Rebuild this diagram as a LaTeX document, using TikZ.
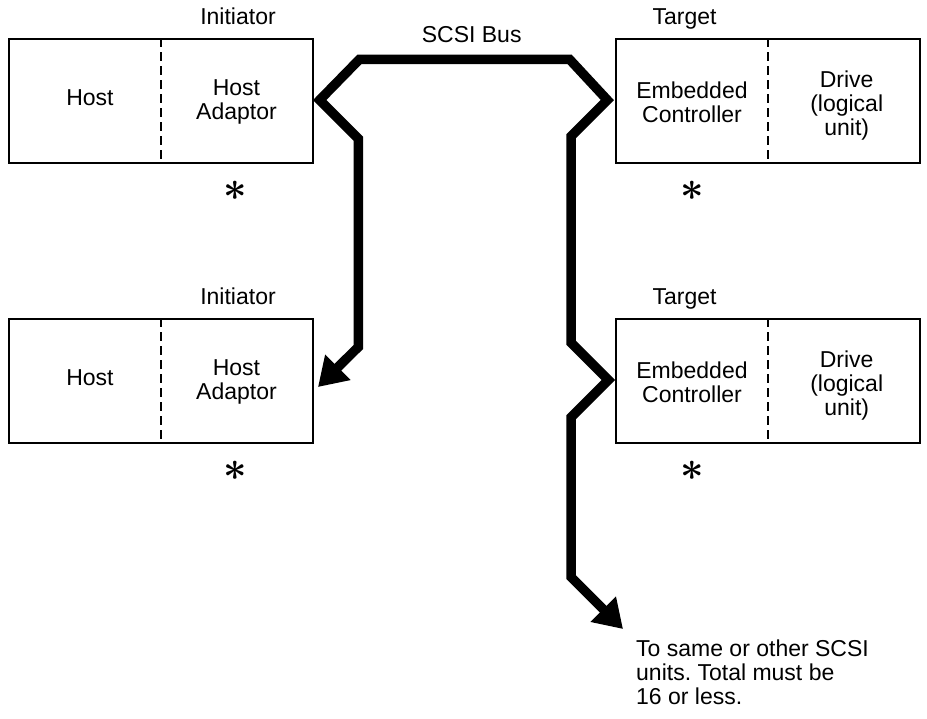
\documentclass[tikz,border=0pt]{standalone}
\usepackage{fontspec}
\usepackage{graphicx}
\setmainfont{Liberation Sans}
\usetikzlibrary{arrows.meta}
\frenchspacing
\begin{document}
\begin{tikzpicture}[x=1pt,y=-1pt,
  every node/.style={font=\fontsize{23}{24}\selectfont, inner sep=0pt},
  unitbox/.style={draw, line width=1.3pt, minimum width=304pt, minimum height=124pt},
  divider/.style={line width=1.6pt, dash pattern=on 9pt off 5pt},
  lbl/.style={anchor=base},
  boxtext/.style={align=center},
  bus/.style={line width=9.5pt, line join=miter, {Triangle[length=28pt,width=34pt]}-{Triangle[length=28pt,width=34pt]}}
]
\newcommand{\bigstar}{\scalebox{4.1}{\fontsize{10}{12}\selectfont\boldmath$\ast$}}
\useasboundingbox (0,0) rectangle (927,719);

% boxes
\node[unitbox] (iniA) at (161,101) {};
\node[unitbox] (tgtA) at (768,101) {};
\node[unitbox] (iniB) at (161,381) {};
\node[unitbox] (tgtB) at (768,381) {};
\draw[divider] (iniA.north) -- (iniA.south);
\draw[divider] (tgtA.north) -- (tgtA.south);
\draw[divider] (iniB.north) -- (iniB.south);
\draw[divider] (tgtB.north) -- (tgtB.south);

% labels
\node[lbl] (iniAlbl) at (238,25) {Initiator};
\node[lbl] (tgtAlbl) at (684.5,25) {Target};
\node[lbl] (iniBlbl) at (238,305) {Initiator};
\node[lbl] (tgtBlbl) at (684.5,305) {Target};
\node[lbl] (buslbl) at (471.7,42.7) {SCSI Bus};

% box texts
\node[lbl] (hostA) at (90,106) {Host};
\node[boxtext] (adA) at (236.5,101.6) {Host\\Adaptor};
\node[boxtext] (ecA) at (692,102.5) {Embedded\\Controller};
\node[boxtext] (drA) at (846.7,106) {Drive\\(logical\\unit)};
\node[lbl] (hostB) at (90,386) {Host};
\node[boxtext] (adB) at (236.5,381.6) {Host\\Adaptor};
\node[boxtext] (ecB) at (692,382.5) {Embedded\\Controller};
\node[boxtext] (drB) at (846.7,386) {Drive\\(logical\\unit)};

% asterisks
\node (sA) at (235.5,191) {\bigstar};
\node (sB) at (692,191) {\bigstar};
\node (sC) at (235.5,471) {\bigstar};
\node (sD) at (692,471) {\bigstar};

% note
\node[align=left, anchor=north west] (note) at (636,640) {To same or other SCSI\\units. Total must be\\16 or less.};

% bus
\coordinate (tipA) at (318,387);
\coordinate (k1) at (358.3,347);
\coordinate (k2) at (358.3,138.6);
\coordinate (k3) at (319.7,100);
\coordinate (k4) at (359.3,59.5);
\coordinate (k5) at (569.7,59.5);
\coordinate (k6) at (607.3,100);
\coordinate (k7) at (571,136.3);
\coordinate (k8) at (571,342.7);
\coordinate (k9) at (608.3,380);
\coordinate (k10) at (571,417.3);
\coordinate (k11) at (571,577);
\coordinate (tipB) at (623,629);
\draw[bus] (tipA) -- (k1) -- (k2) -- (k3) -- (k4) -- (k5) -- (k6) -- (k7) -- (k8) -- (k9) -- (k10) -- (k11) -- (tipB);
\end{tikzpicture}
\end{document}
